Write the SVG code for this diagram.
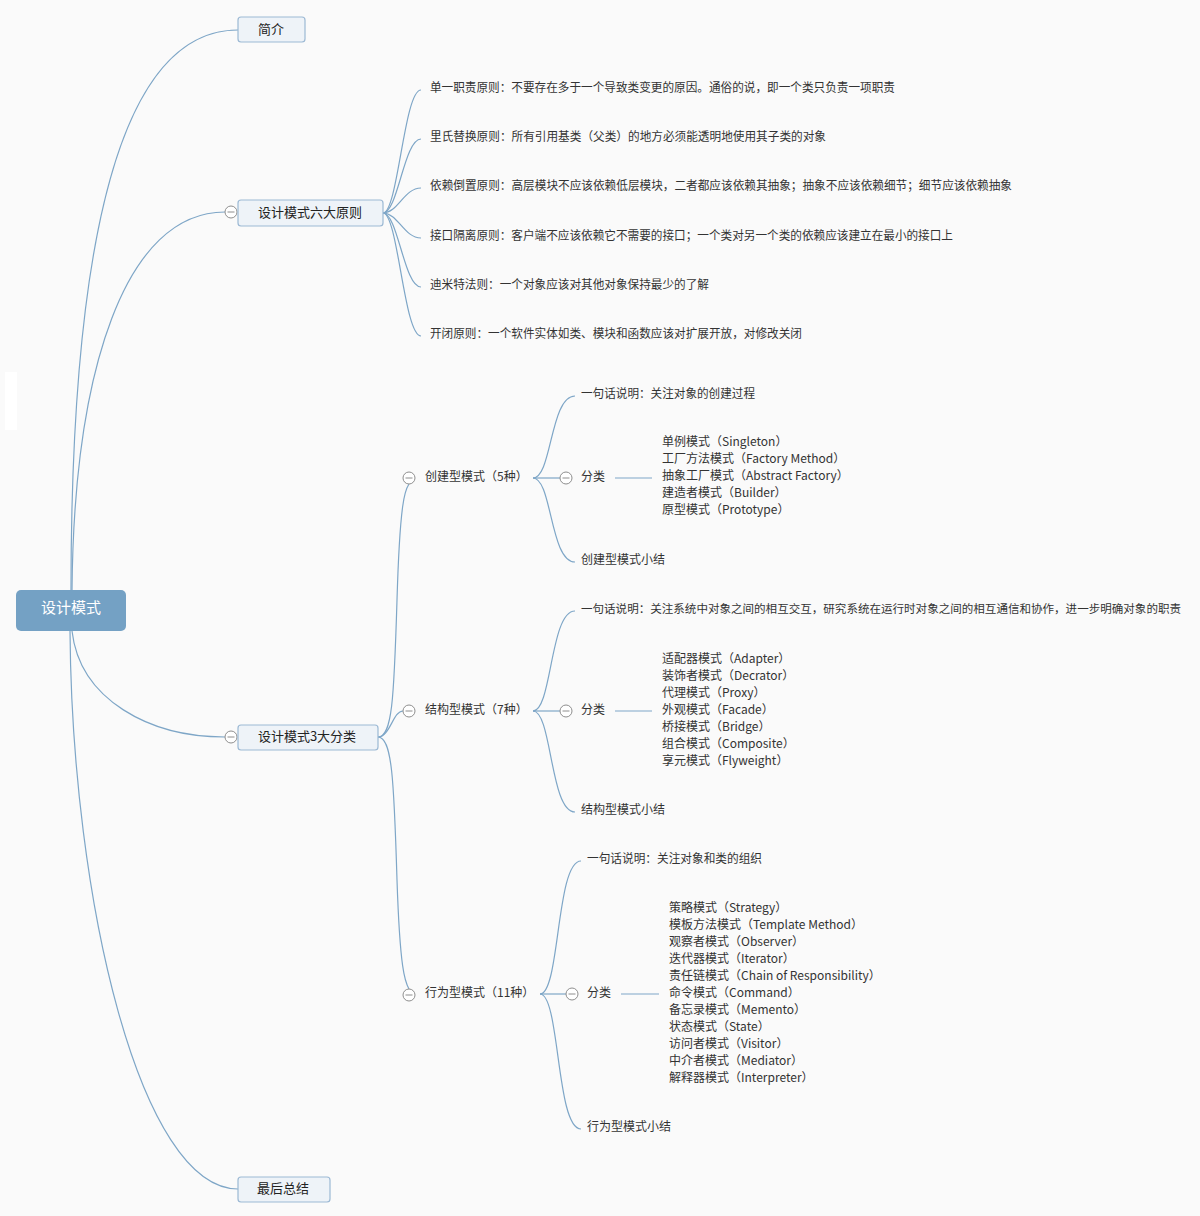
<svg xmlns="http://www.w3.org/2000/svg" width="1200" height="1216" viewBox="0 0 1200 1216">
<style>
text{font-family:"Noto Sans CJK SC","Liberation Sans",sans-serif;}
.c{fill:none;stroke:#7ea6c7;stroke-width:1.2;}
.t{font-size:12px;fill:#333;}
.n{fill:#eef3f8;stroke:#9cb9d4;stroke-width:1.2;}
.nt{font-size:13px;fill:#222;text-anchor:middle;}
.cb circle{fill:#fff;stroke:#8e8e8e;stroke-width:1;}
.cb line{stroke:#8e8e8e;stroke-width:1;}
</style>
<rect width="1200" height="1216" fill="#fafafa"/>
<rect x="5" y="372" width="12" height="58" fill="#ffffff"/>
<g id="connectors">
<path class="c" d="M71,590 C71,240 120,30 238,30"/>
<path class="c" d="M72,590 C74,370 125,212 225,212"/>
<path class="c" d="M72,631 C80,700 150,737 225,737"/>
<path class="c" d="M70,631 C72,900 140,1189 238,1189"/>
<path class="c" d="M383,213 C398,213 404,90 421,90"/>
<path class="c" d="M383,213 C398,213 404,139 421,139"/>
<path class="c" d="M383,213 C398,213 404,188 421,188"/>
<path class="c" d="M383,213 C398,213 404,238 421,238"/>
<path class="c" d="M383,213 C398,213 404,287 421,287"/>
<path class="c" d="M383,213 C398,213 404,336 421,336"/>
<path class="c" d="M378,737 C392,737 394,700 397,600 C400,500 405,490 409,484"/>
<path class="c" d="M378,737 C390,737 393,711 403,711"/>
<path class="c" d="M378,737 C392,737 394,780 397,880 C400,970 405,982 409,989"/>
<path class="c" d="M533,478 C552,478 550,396 575,396"/>
<path class="c" d="M533,478 L560,478"/>
<path class="c" d="M533,478 C552,478 550,562 575,562"/>
<path class="c" d="M615,478 L652,478"/>
<path class="c" d="M533,711 C552,711 550,611 575,611"/>
<path class="c" d="M533,711 L560,711"/>
<path class="c" d="M533,711 C552,711 550,812 575,812"/>
<path class="c" d="M615,711 L652,711"/>
<path class="c" d="M540,994 C560,994 556,861 581,861"/>
<path class="c" d="M540,994 L566,994"/>
<path class="c" d="M540,994 C560,994 556,1129 581,1129"/>
<path class="c" d="M621,994 L659,994"/>
</g>
<g id="root">
<rect x="16" y="590" width="110" height="41" rx="5" fill="#74a1c4"/>
<text x="71" y="613" font-size="15" fill="#fff" text-anchor="middle">设计模式</text>
</g>
<g id="intro">
<rect class="n" x="238" y="17" width="67" height="25" rx="3"/>
<text class="nt" x="271" y="34">简介</text>
</g>
<g id="principles">
<g class="cb"><circle cx="231" cy="212" r="6"/><line x1="227.5" y1="212" x2="234.5" y2="212"/></g>
<rect class="n" x="238" y="200" width="145" height="26" rx="3"/>
<text class="nt" x="310" y="217">设计模式六大原则</text>
</g>
<g id="p1"><text class="t" x="430" y="92" textLength="465" lengthAdjust="spacingAndGlyphs">单一职责原则：不要存在多于一个导致类变更的原因。通俗的说，即一个类只负责一项职责</text></g>
<g id="p2"><text class="t" x="430" y="141" textLength="396" lengthAdjust="spacingAndGlyphs">里氏替换原则：所有引用基类（父类）的地方必须能透明地使用其子类的对象</text></g>
<g id="p3"><text class="t" x="430" y="190" textLength="582" lengthAdjust="spacingAndGlyphs">依赖倒置原则：高层模块不应该依赖低层模块，二者都应该依赖其抽象；抽象不应该依赖细节；细节应该依赖抽象</text></g>
<g id="p4"><text class="t" x="430" y="240" textLength="523" lengthAdjust="spacingAndGlyphs">接口隔离原则：客户端不应该依赖它不需要的接口；一个类对另一个类的依赖应该建立在最小的接口上</text></g>
<g id="p5"><text class="t" x="430" y="289" textLength="279" lengthAdjust="spacingAndGlyphs">迪米特法则：一个对象应该对其他对象保持最少的了解</text></g>
<g id="p6"><text class="t" x="430" y="338" textLength="372" lengthAdjust="spacingAndGlyphs">开闭原则：一个软件实体如类、模块和函数应该对扩展开放，对修改关闭</text></g>
<g id="categories">
<g class="cb"><circle cx="231" cy="737" r="6"/><line x1="227.5" y1="737" x2="234.5" y2="737"/></g>
<rect class="n" x="238" y="725" width="140" height="25" rx="3"/>
<text class="nt" x="307" y="741">设计模式3大分类</text>
</g>
<g id="summary">
<rect class="n" x="238" y="1177" width="92" height="25" rx="3"/>
<text class="nt" x="283" y="1193">最后总结</text>
</g>
<g id="creational">
<g class="cb"><circle cx="409" cy="478" r="6"/><line x1="405.5" y1="478" x2="412.5" y2="478"/></g>
<text class="t" x="425" y="481">创建型模式（5种）</text>
</g>
<g id="c-desc"><text class="t" x="581" y="398" textLength="174" lengthAdjust="spacingAndGlyphs">一句话说明：关注对象的创建过程</text></g>
<g id="c-cls">
<g class="cb"><circle cx="566" cy="478" r="6"/><line x1="562.5" y1="478" x2="569.5" y2="478"/></g>
<text class="t" x="581" y="481">分类</text>
</g>
<g id="c-list">
<text class="t" x="662" y="446">单例模式（Singleton）</text>
<text class="t" x="662" y="463">工厂方法模式（Factory Method）</text>
<text class="t" x="662" y="480">抽象工厂模式（Abstract Factory）</text>
<text class="t" x="662" y="497">建造者模式（Builder）</text>
<text class="t" x="662" y="514">原型模式（Prototype）</text>
</g>
<g id="c-sum"><text class="t" x="581" y="564">创建型模式小结</text></g>
<g id="structural">
<g class="cb"><circle cx="409" cy="711" r="6"/><line x1="405.5" y1="711" x2="412.5" y2="711"/></g>
<text class="t" x="425" y="714">结构型模式（7种）</text>
</g>
<g id="s-desc"><text class="t" x="581" y="613" font-size="11.5" style="font-size:11.5px" textLength="600" lengthAdjust="spacingAndGlyphs">一句话说明：关注系统中对象之间的相互交互，研究系统在运行时对象之间的相互通信和协作，进一步明确对象的职责</text></g>
<g id="s-cls">
<g class="cb"><circle cx="566" cy="711" r="6"/><line x1="562.5" y1="711" x2="569.5" y2="711"/></g>
<text class="t" x="581" y="714">分类</text>
</g>
<g id="s-list">
<text class="t" x="662" y="663">适配器模式（Adapter）</text>
<text class="t" x="662" y="680">装饰者模式（Decrator）</text>
<text class="t" x="662" y="697">代理模式（Proxy）</text>
<text class="t" x="662" y="714">外观模式（Facade）</text>
<text class="t" x="662" y="731">桥接模式（Bridge）</text>
<text class="t" x="662" y="748">组合模式（Composite）</text>
<text class="t" x="662" y="765">享元模式（Flyweight）</text>
</g>
<g id="s-sum"><text class="t" x="581" y="814">结构型模式小结</text></g>
<g id="behavioral">
<g class="cb"><circle cx="409" cy="995" r="6"/><line x1="405.5" y1="995" x2="412.5" y2="995"/></g>
<text class="t" x="425" y="997">行为型模式（11种）</text>
</g>
<g id="b-desc"><text class="t" x="587" y="863" textLength="175" lengthAdjust="spacingAndGlyphs">一句话说明：关注对象和类的组织</text></g>
<g id="b-cls">
<g class="cb"><circle cx="572" cy="994" r="6"/><line x1="568.5" y1="994" x2="575.5" y2="994"/></g>
<text class="t" x="587" y="997">分类</text>
</g>
<g id="b-list">
<text class="t" x="669" y="912">策略模式（Strategy）</text>
<text class="t" x="669" y="929">模板方法模式（Template Method）</text>
<text class="t" x="669" y="946">观察者模式（Observer）</text>
<text class="t" x="669" y="963">迭代器模式（Iterator）</text>
<text class="t" x="669" y="980">责任链模式（Chain of Responsibility）</text>
<text class="t" x="669" y="997">命令模式（Command）</text>
<text class="t" x="669" y="1014">备忘录模式（Memento）</text>
<text class="t" x="669" y="1031">状态模式（State）</text>
<text class="t" x="669" y="1048">访问者模式（Visitor）</text>
<text class="t" x="669" y="1065">中介者模式（Mediator）</text>
<text class="t" x="669" y="1082">解释器模式（Interpreter）</text>
</g>
<g id="b-sum"><text class="t" x="587" y="1131">行为型模式小结</text></g>
</svg>
